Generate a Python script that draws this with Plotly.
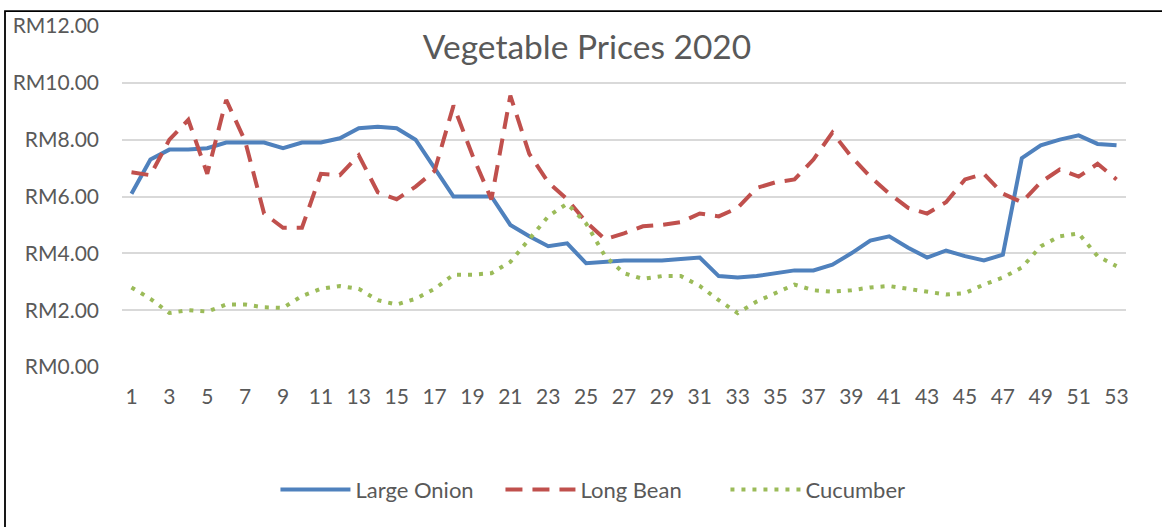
import plotly.graph_objects as go

weeks = list(range(1, 54))

large_onion = [6.1, 7.3, 7.65, 7.65, 7.7, 7.9, 7.9, 7.9, 7.7, 7.9,
               7.9, 8.05, 8.4, 8.45, 8.4, 8.0, 7.0, 6.0, 6.0, 6.0,
               5.0, 4.6, 4.25, 4.35, 3.65, 3.7, 3.75, 3.75, 3.75, 3.8,
               3.85, 3.2, 3.15, 3.2, 3.3, 3.4, 3.4, 3.6, 4.0, 4.45,
               4.6, 4.2, 3.85, 4.1, 3.9, 3.75, 3.95, 7.35, 7.8, 8.0,
               8.15, 7.85, 7.8]

long_bean = [6.85, 6.75, 8.0, 8.7, 6.8, 9.4, 7.95, 5.4, 4.9, 4.9,
             6.8, 6.75, 7.45, 6.15, 5.9, 6.35, 6.9, 9.2, 7.45, 5.9,
             9.55, 7.5, 6.5, 5.9, 5.1, 4.5, 4.7, 4.95, 5.0, 5.1,
             5.4, 5.3, 5.6, 6.3, 6.5, 6.6, 7.3, 8.25, 7.4, 6.7,
             6.1, 5.6, 5.4, 5.8, 6.6, 6.8, 6.1, 5.8, 6.5, 6.95,
             6.7, 7.15, 6.6]

cucumber = [2.8, 2.4, 1.9, 2.0, 1.95, 2.2, 2.2, 2.1, 2.08, 2.5,
            2.75, 2.85, 2.75, 2.35, 2.2, 2.4, 2.75, 3.25, 3.25, 3.3,
            3.7, 4.5, 5.3, 5.75, 5.05, 3.9, 3.3, 3.1, 3.2, 3.2,
            2.85, 2.35, 1.9, 2.3, 2.6, 2.9, 2.7, 2.65, 2.7, 2.8,
            2.85, 2.75, 2.65, 2.55, 2.6, 2.9, 3.15, 3.5, 4.25, 4.6,
            4.7, 3.9, 3.55]

y_ticks = [0, 2, 4, 6, 8, 10, 12]
y_tick_labels = ["RM0.00", "RM2.00", "RM4.00", "RM6.00", "RM8.00", "RM10.00", "RM12.00"]
x_ticks = list(range(1, 54, 2))

FONT = "Lato"
TXT = "#595959"

fig = go.Figure()
fig.add_trace(go.Scatter(x=weeks, y=large_onion, name="Large Onion", mode="lines",
                         line=dict(color="#4f81bd", width=4)))
fig.add_trace(go.Scatter(x=weeks, y=long_bean, name="Long Bean", mode="lines",
                         line=dict(color="#c0504d", width=4, dash="17px,10px")))
fig.add_trace(go.Scatter(x=weeks, y=cucumber, name="Cucumber", mode="lines",
                         line=dict(color="#9bbb59", width=4, dash="4px,7px")))

fig.update_layout(
    width=1162, height=527,
    margin=dict(l=122, r=36, t=22, b=160),
    paper_bgcolor="white", plot_bgcolor="white",
    font=dict(family=FONT, color=TXT, size=21),
    title=dict(text="Vegetable Prices 2020", x=587 / 1162, xref="container", xanchor="center",
               y=1 - 47 / 527, yref="container", yanchor="middle",
               font=dict(family=FONT, size=33.5, color=TXT)),
    showlegend=True,
    legend=dict(orientation="h", x=0.489, xanchor="center", y=-0.36, yanchor="middle",
                font=dict(family=FONT, size=22, color=TXT), bgcolor="rgba(0,0,0,0)",
                entrywidth=140, itemwidth=70),
    xaxis=dict(range=[0.5, 53.5], tickmode="array", tickvals=x_ticks,
               ticktext=[str(v) for v in x_ticks], showgrid=False, zeroline=False,
               showline=False, ticks="", ticklabelstandoff=15,
               tickfont=dict(family=FONT, size=21, color=TXT)),
    yaxis=dict(range=[0, 12], tickmode="array", tickvals=y_ticks, ticktext=y_tick_labels,
               showgrid=True, gridcolor="#d9d9d9", gridwidth=1.5, zeroline=False,
               showline=False, ticks="", ticklabelstandoff=22,
               tickfont=dict(family=FONT, size=21, color=TXT)),
    shapes=[dict(type="rect", xref="paper", yref="paper",
                 x0=(5 - 122) / 1004, x1=1.2, y0=-1.0, y1=(367 - 7) / 345,
                 line=dict(color="black", width=1.8), fillcolor="rgba(0,0,0,0)", layer="below")],
)

fig.write_html("out.html", config={"displayModeBar": False},
               post_script="document.body.style.margin='0';document.body.style.overflow='hidden';")
